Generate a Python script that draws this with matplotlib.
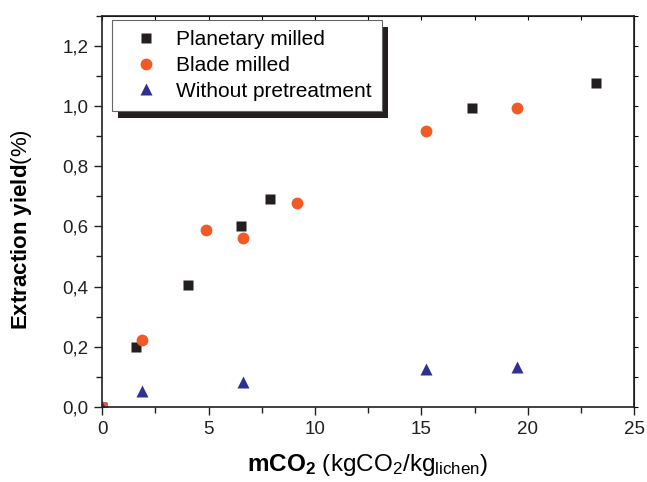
import matplotlib
matplotlib.use("Agg")
import matplotlib.pyplot as plt
from matplotlib.ticker import MultipleLocator, FuncFormatter
from matplotlib.patches import Rectangle

plt.rcParams['font.family'] = ['Liberation Sans', 'DejaVu Sans']
plt.rcParams['mathtext.fontset'] = 'custom'
plt.rcParams['mathtext.rm'] = 'Liberation Sans'
plt.rcParams['mathtext.it'] = 'Liberation Sans:italic'
plt.rcParams['mathtext.bf'] = 'Liberation Sans:bold'

# data
planetary_x = [0, 1.6, 4.05, 6.5, 7.9, 17.4, 23.2]
planetary_y = [0, 0.20, 0.405, 0.60, 0.69, 0.995, 1.077]
blade_x = [0, 1.86, 4.88, 6.6, 9.14, 15.2, 19.5]
blade_y = [0, 0.222, 0.588, 0.561, 0.679, 0.918, 0.993]
raw_x = [0, 1.86, 6.6, 15.2, 19.5]
raw_y = [0, 0.054, 0.084, 0.125, 0.134]

fig = plt.figure(figsize=(6.47, 4.82), dpi=100)
ax = fig.add_axes([0.158, 0.156, 0.822, 0.811])

ax.plot(planetary_x, planetary_y, 's', color='#231f20', ms=7.5, mec='none', label='Planetary milled')
ax.plot(blade_x, blade_y, 'o', color='#f15a24', ms=8.5, mec='none', label='Blade milled')
ax.plot(raw_x, raw_y, '^', color='#2e3192', ms=9, mec='none', label='Without pretreatment')

ax.set_xlim(0, 25)
ax.set_ylim(0, 1.3)
ax.xaxis.set_major_locator(MultipleLocator(5))
ax.xaxis.set_minor_locator(MultipleLocator(2.5))
ax.yaxis.set_major_locator(MultipleLocator(0.2))
ax.yaxis.set_minor_locator(MultipleLocator(0.1))
ax.yaxis.set_major_formatter(FuncFormatter(lambda v, p: f"{v:.1f}".replace('.', ',')))
ax.xaxis.set_major_formatter(FuncFormatter(lambda v, p: f"{v:.0f}"))

ax.tick_params(which='both', direction='out', labelsize=13.5, width=1.0, colors='#231f20')
ax.tick_params(which='major', length=6, pad=4)
ax.tick_params(which='minor', length=4)
for s in ax.spines.values():
    s.set_linewidth(1.2)
    s.set_color('#231f20')

sec_x = ax.secondary_xaxis('top')
sec_x.xaxis.set_major_locator(MultipleLocator(2.5))
sec_x.tick_params(direction='in', length=3, labeltop=False, width=0.8)
sec_y = ax.secondary_yaxis('right')
sec_y.yaxis.set_major_locator(MultipleLocator(0.1))
sec_y.tick_params(direction='out', length=3, labelright=False, width=0.8)

ax.set_xlabel(r'$\mathbf{mCO_2}$ (kgCO$_2$/kg$_{\mathrm{lichen}}$)', fontsize=17.5, labelpad=10)
ax.set_ylabel(r'$\mathbf{Extraction\ yield}$(%)', fontsize=16)
ax.yaxis.set_label_coords(-0.128, 0.453)

leg = ax.legend(loc='upper left', bbox_to_anchor=(0.018, 0.99), fontsize=15,
                frameon=True, fancybox=False, edgecolor='#666666', framealpha=1,
                handletextpad=0.3, labelspacing=0.32, borderpad=0.5,
                handlelength=2.3, borderaxespad=0)
leg.get_frame().set_linewidth(0.8)
leg.set_zorder(10)

fig.canvas.draw()
bb = leg.get_window_extent()
shadow = Rectangle((bb.x0 + 6, bb.y0 - 7), bb.width, bb.height, transform=None,
                   facecolor='#231f20', edgecolor='none', zorder=9)
ax.add_artist(shadow)

fig.savefig('out.png', dpi=100)
